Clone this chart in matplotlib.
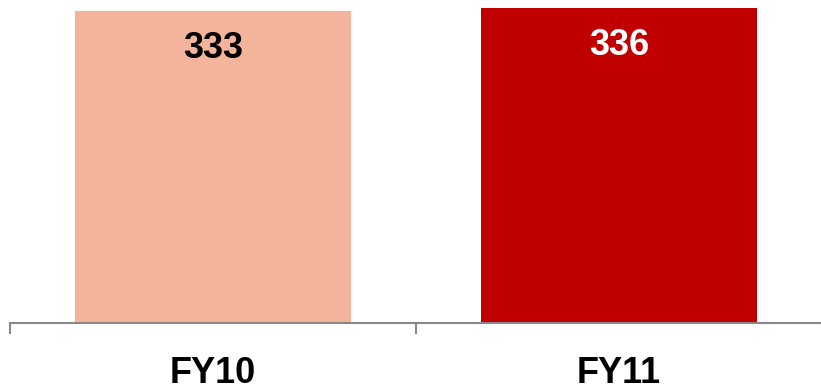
import numpy as np
import matplotlib.pyplot as plt

categories = ['FY10', 'FY11']
values = [333, 336]
colors = ['#F4B49C', '#C00000']
label_colors = ['black', 'white']

plt.rcParams['font.family'] = ['Liberation Sans', 'DejaVu Sans']

fig = plt.figure(figsize = (8.21, 3.92), dpi = 100)
ax = fig.add_axes([10/821, 69/392, 812/821, 323/392])

x = np.arange(len(categories))
bars = ax.bar(x, values, width = 0.68, color = colors)

# value labels inside the bars
for i in range(len(values)):
    ax.annotate(str(values[i]), (x[i], values[i]), xytext = (0, -34), textcoords = 'offset points',
                ha = 'center', va = 'baseline', fontsize = 26, fontweight = 'bold', color = label_colors[i])

ax.set_xlim(-0.5, 1.5)
ax.set_ylim(0, 344.5)

for s in ['top', 'right', 'left']:
    ax.spines[s].set_visible(False)
ax.spines['bottom'].set_color('#888888')
ax.spines['bottom'].set_linewidth(1.5)
ax.set_yticks([])

ax.set_xticks(x)
ax.set_xticklabels(categories, fontsize = 26, fontweight = 'bold')
ax.tick_params(axis = 'x', which = 'major', length = 0, pad = 24)
ax.set_xticks([-0.5, 0.5, 1.5], minor = True)
ax.tick_params(axis = 'x', which = 'minor', length = 8, width = 1.5, color = '#888888', direction = 'out')

plt.savefig('out.png', dpi = 100)
